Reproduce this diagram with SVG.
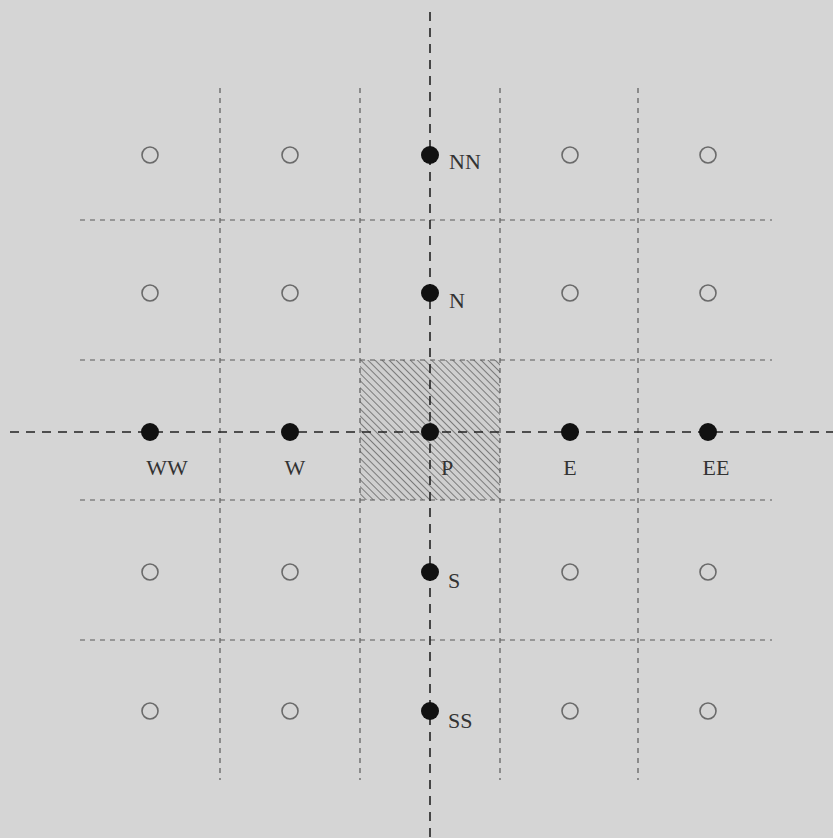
<svg xmlns="http://www.w3.org/2000/svg" width="833" height="838" viewBox="0 0 833 838">
<defs>
<style>
.grid{stroke:#5a5a5a;stroke-width:1.2;stroke-dasharray:5,5;fill:none}
.axis{stroke:#222;stroke-width:1.6;stroke-dasharray:9,7;fill:none}
.open{fill:none;stroke:#6a6a6a;stroke-width:1.6}
.dot{fill:#111}
.lbl{font-family:"Liberation Serif",serif;font-size:22px;fill:#333}
</style>
<pattern id="hatch" patternUnits="userSpaceOnUse" width="5" height="5" patternTransform="rotate(-45)">
<rect width="5" height="5" fill="#cfcfcf"/>
<line x1="0" y1="0" x2="0" y2="5" stroke="#7a7a7a" stroke-width="2"/>
</pattern>
</defs>
<rect width="833" height="838" fill="#d5d5d5"/>
<g id="cellP"><rect x="360" y="360" width="140" height="140" fill="url(#hatch)"/></g>
<g id="connectors">
<line class="grid" x1="80" y1="220" x2="772" y2="220"/>
<line class="grid" x1="80" y1="360" x2="772" y2="360"/>
<line class="grid" x1="80" y1="500" x2="772" y2="500"/>
<line class="grid" x1="80" y1="640" x2="772" y2="640"/>
<line class="grid" x1="220" y1="88" x2="220" y2="780"/>
<line class="grid" x1="360" y1="88" x2="360" y2="780"/>
<line class="grid" x1="500" y1="88" x2="500" y2="780"/>
<line class="grid" x1="638" y1="88" x2="638" y2="780"/>
<line class="axis" x1="10" y1="432" x2="833" y2="432"/>
<line class="axis" x1="430" y1="12" x2="430" y2="838"/>
</g>
<g id="open-nodes">
<circle class="open" cx="150" cy="155" r="8"/><circle class="open" cx="290" cy="155" r="8"/><circle class="open" cx="570" cy="155" r="8"/><circle class="open" cx="708" cy="155" r="8"/>
<circle class="open" cx="150" cy="293" r="8"/><circle class="open" cx="290" cy="293" r="8"/><circle class="open" cx="570" cy="293" r="8"/><circle class="open" cx="708" cy="293" r="8"/>
<circle class="open" cx="150" cy="572" r="8"/><circle class="open" cx="290" cy="572" r="8"/><circle class="open" cx="570" cy="572" r="8"/><circle class="open" cx="708" cy="572" r="8"/>
<circle class="open" cx="150" cy="711" r="8"/><circle class="open" cx="290" cy="711" r="8"/><circle class="open" cx="570" cy="711" r="8"/><circle class="open" cx="708" cy="711" r="8"/>
</g>
<g id="NN"><circle class="dot" cx="430" cy="155" r="9"/><text class="lbl" x="449" y="169">NN</text></g>
<g id="N"><circle class="dot" cx="430" cy="293" r="9"/><text class="lbl" x="449" y="308">N</text></g>
<g id="WW"><circle class="dot" cx="150" cy="432" r="9"/><text class="lbl" x="167" y="475" text-anchor="middle">WW</text></g>
<g id="W"><circle class="dot" cx="290" cy="432" r="9"/><text class="lbl" x="295" y="475" text-anchor="middle">W</text></g>
<g id="P"><circle class="dot" cx="430" cy="432" r="9"/><text class="lbl" x="447" y="475" text-anchor="middle">P</text></g>
<g id="E"><circle class="dot" cx="570" cy="432" r="9"/><text class="lbl" x="570" y="475" text-anchor="middle">E</text></g>
<g id="EE"><circle class="dot" cx="708" cy="432" r="9"/><text class="lbl" x="716" y="475" text-anchor="middle">EE</text></g>
<g id="S"><circle class="dot" cx="430" cy="572" r="9"/><text class="lbl" x="448" y="588">S</text></g>
<g id="SS"><circle class="dot" cx="430" cy="711" r="9"/><text class="lbl" x="448" y="728">SS</text></g>
</svg>
